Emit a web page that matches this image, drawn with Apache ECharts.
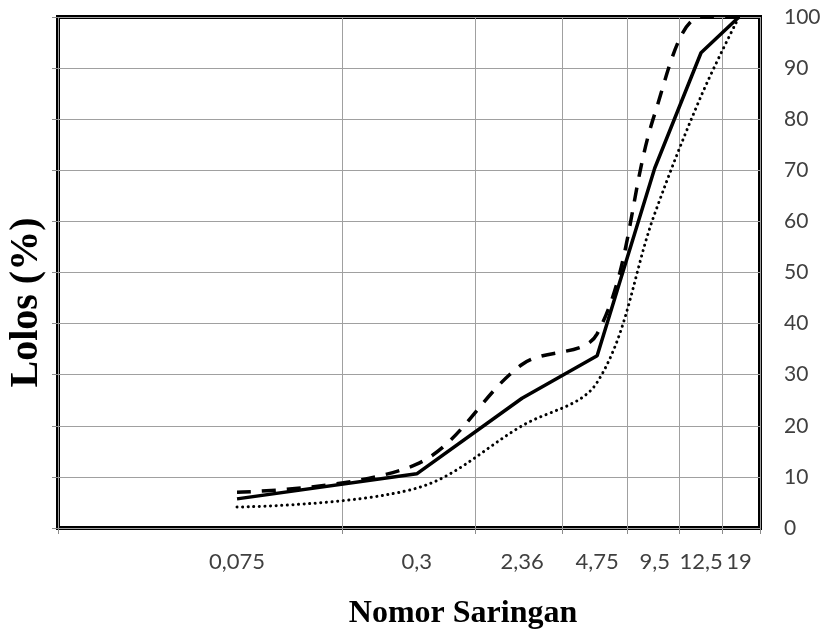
<!DOCTYPE html>
<html>
<head>
<meta charset="utf-8">
<script src="https://cdn.jsdelivr.net/npm/echarts@6/dist/echarts.min.js"></script>
<style>
  html, body { margin: 0; padding: 0; background: #fff; }
  #chart { width: 827px; height: 629px; }
</style>
</head>
<body>
<div id="chart"></div>
<script>
// sieve labels and where each sits on the uneven horizontal scale (0-100)
const sieveLabels = ['0,075', '0,3', '2,36', '4,75', '9,5', '12,5', '19']
const sievePos = [25.5, 51.1, 66.1, 76.8, 85.0, 91.6, 97.0]
// vertical grid lines / bottom ticks
const gridPos = [0, 40.5, 59.4, 71.8, 81.1, 88.5, 94.6, 100]

// passing percentage for the three curves
const solidVals = [5.7, 10.6, 25.4, 33.7, 70.4, 93.0, 100]
const dashedVals = [7.0, 12.5, 32.0, 38.0, 81.0, 100, 100]
const dottedVals = [4.1, 7.8, 20.0, 28.5, 61.5, 84.5, 100]

const pairs = vals => sievePos.map((x, i) => [x, vals[i]])

const labelFont = 'Lato, "Open Sans", sans-serif'
const titleFont = '"Liberation Serif", "Times New Roman", serif'

const chart = echarts.init(document.getElementById('chart'))
chart.setOption({
  animation: false,
  grid: {
    left: 58,
    right: 67,
    top: 17,
    bottom: 101,
    outerBoundsMode: 'none',
    show: true,
    borderColor: '#000',
    borderWidth: 4
  },
  xAxis: [
    {
      type: 'value',
      min: 0,
      max: 100,
      axisLine: { show: false },
      axisTick: {
        show: true,
        customValues: gridPos,
        length: 6,
        lineStyle: { color: '#8c8c8c', width: 1 }
      },
      axisLabel: { show: false },
      splitLine: {
        show: true,
        lineStyle: { color: '#a0a0a0', width: 1 }
      },
      name: 'Nomor Saringan',
      nameLocation: 'middle',
      nameGap: 70,
      nameTextStyle: {
        fontFamily: titleFont,
        fontWeight: 'bold',
        fontSize: 32,
        color: '#000',
        padding: [0, 0, 0, 108]
      }
    },
    {
      type: 'value',
      min: 0,
      max: 100,
      position: 'bottom',
      axisLine: { show: false },
      axisTick: { show: false },
      splitLine: { show: false },
      axisLabel: {
        customValues: sievePos,
        formatter: v => sieveLabels[sievePos.indexOf(v)],
        margin: 23,
        fontFamily: labelFont,
        fontSize: 22,
        color: '#404040'
      }
    }
  ],
  yAxis: [
    {
      type: 'value',
      position: 'left',
      min: 0,
      max: 100,
      interval: 10,
      axisLine: { show: false },
      axisTick: {
        show: true,
        length: 6,
        lineStyle: { color: '#8c8c8c', width: 1 }
      },
      axisLabel: { show: false },
      splitLine: {
        show: true,
        lineStyle: { color: '#a0a0a0', width: 1 }
      },
      name: 'Lolos (%)',
      nameLocation: 'middle',
      nameGap: 11,
      nameRotate: 90,
      nameTextStyle: {
        fontFamily: titleFont,
        fontWeight: 'bold',
        fontSize: 40,
        color: '#000',
        padding: [0, 60, 0, 0]
      }
    },
    {
      type: 'value',
      position: 'right',
      min: 0,
      max: 100,
      interval: 10,
      axisLine: { show: false },
      axisTick: { show: false },
      splitLine: { show: false },
      axisLabel: {
        margin: 24,
        fontFamily: labelFont,
        fontSize: 21,
        color: '#404040'
      }
    }
  ],
  series: [
    {
      name: 'solid',
      type: 'line',
      data: pairs(solidVals),
      showSymbol: false,
      lineStyle: { color: '#000', width: 3.5, type: 'solid' }
    },
    {
      name: 'dashed',
      type: 'line',
      data: pairs(dashedVals),
      smooth: 0.35,
      showSymbol: false,
      lineStyle: { color: '#000', width: 3.5, type: [14, 11] }
    },
    {
      name: 'dotted',
      type: 'line',
      data: pairs(dottedVals),
      smooth: 0.35,
      showSymbol: false,
      lineStyle: { color: '#000', width: 3, type: [0.1, 5.5], cap: 'round' }
    }
  ]
})
</script>
</body>
</html>
